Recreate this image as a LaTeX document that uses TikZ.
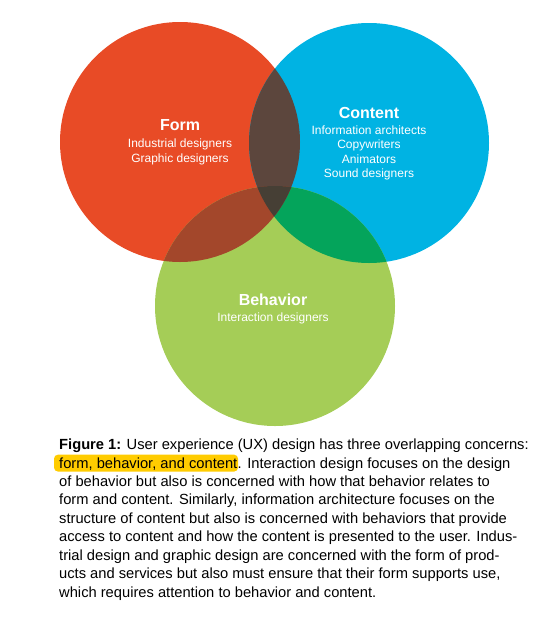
\documentclass[tikz,border=0pt]{standalone}
\usepackage{fontspec}
\setmainfont{Liberation Sans}
\usepackage{xcolor}
\usepackage{tikz}
\usetikzlibrary{positioning,backgrounds}
\definecolor{formred}{HTML}{E84B26}
\definecolor{contblue}{HTML}{00B3E3}
\definecolor{behgreen}{HTML}{A5CD57}
\definecolor{fcbrown}{HTML}{5C463D}
\definecolor{fbrust}{HTML}{A3472B}
\definecolor{cbgreen}{HTML}{04A45B}
\definecolor{allthree}{HTML}{463F35}
\definecolor{hlyellow}{HTML}{FFCC00}

\begin{document}
\begin{tikzpicture}[x=1pt,y=-1pt,
  title/.style={text=white,font=\fontsize{16}{19}\selectfont\bfseries,anchor=base,inner sep=0},
  sub/.style={text=white,font=\fontsize{12}{14}\selectfont,anchor=base,inner sep=0},
  capline/.style={font=\fontsize{14.7}{18}\selectfont,anchor=base west,inner sep=0}]
  \useasboundingbox (0,0) rectangle (546,619);
  % circle centres
  \coordinate (form) at (180,142);
  \coordinate (content) at (369,143);
  \coordinate (behav) at (275,306);
  \fill[formred] (form) circle (120pt);
  \fill[contblue] (content) circle (120pt);
  \fill[behgreen] (behav) circle (120pt);
  % overlaps
  \begin{scope}
    \clip (content) circle (120pt);
    \fill[cbgreen] (behav) circle (120pt);
  \end{scope}
  \begin{scope}
    \clip (form) circle (120pt);
    \fill[fcbrown] (content) circle (120pt);
    \fill[fbrust] (behav) circle (120pt);
    \clip (content) circle (120pt);
    \fill[allthree] (behav) circle (120pt);
  \end{scope}
  % labels
  \node[title] (formtitle) at (180,130) {Form};
  \foreach \t [count=\i] in {Industrial designers, Graphic designers}
    \node[sub] (form\i) at (180,{147.5+14.5*(\i-1)}) {\t};
  \node[title] (conttitle) at (369,118) {Content};
  \foreach \t [count=\i] in {Information architects, Copywriters, Animators, Sound designers}
    \node[sub] (cont\i) at (369,{134+14.6*(\i-1)}) {\t};
  \node[title] (behtitle) at (273,305) {Behavior};
  \node[sub] (beh1) at (273,321) {Interaction designers};
  % caption
  \node[capline] (cap1) at (59,449.5) {\textbf{Figure 1:} User experience (UX) design has three overlapping concerns:};
  \node[capline] (cap2a) at (59,468) {form, behavior, and content};
  \node[capline] (cap2b) at (cap2a.base east) {. Interaction design focuses on the design};
  \begin{scope}[on background layer]
    \fill[hlyellow,rounded corners=4pt] ([xshift=-5pt,yshift=-1.5pt]cap2a.south west) rectangle ([xshift=0.5pt,yshift=2.5pt]cap2a.north east);
  \end{scope}
  \foreach \t [count=\i from 3] in {of behavior but also is concerned with how that behavior relates to,
    form and content. Similarly{,} information architecture focuses on the,
    structure of content but also is concerned with behaviors that provide,
    access to content and how the content is presented to the user. Indus-,
    trial design and graphic design are concerned with the form of prod-,
    {ucts and services but also must ensure that their form supports use,},
    {which requires attention to behavior and content.}}
    \node[capline] (cap\i) at (59,{449.5+18.45*(\i-1)}) {\t};
\end{tikzpicture}
\end{document}
